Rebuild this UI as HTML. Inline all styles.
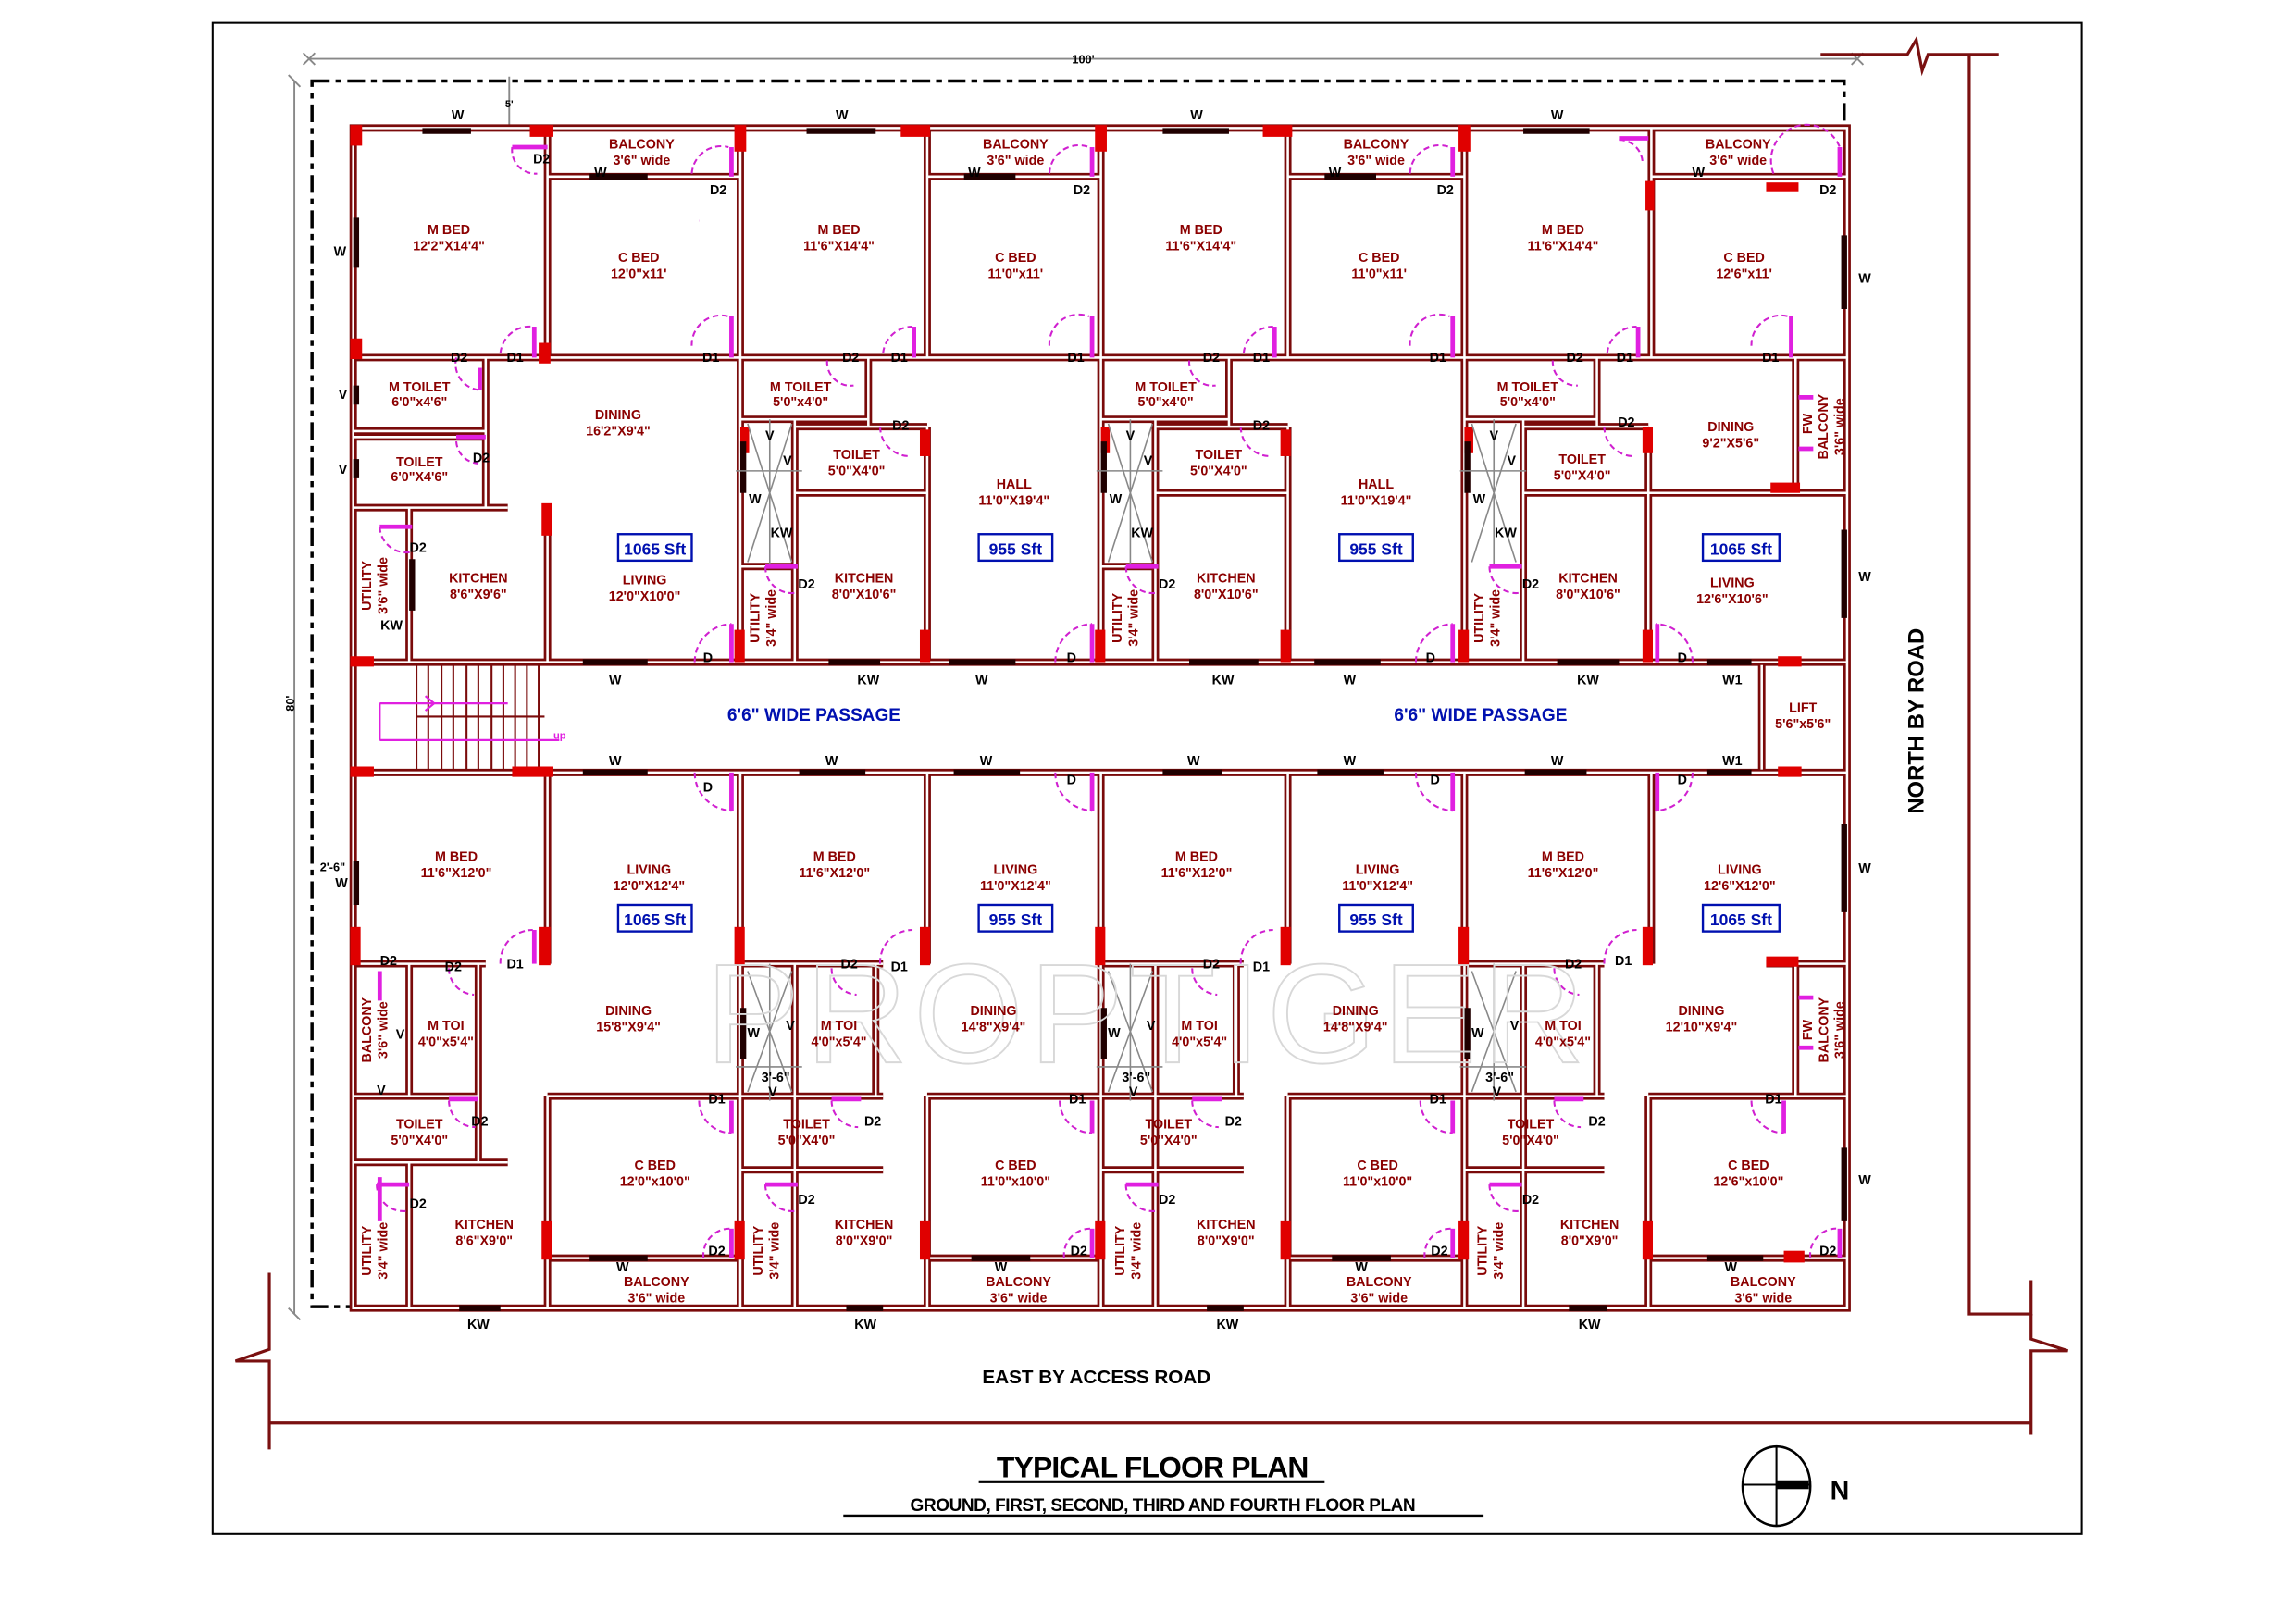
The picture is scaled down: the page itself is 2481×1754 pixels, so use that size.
<!DOCTYPE html>
<html><head><meta charset="utf-8"><style>
html,body{margin:0;padding:0;background:#fff}
svg{display:block}
.r{font-family:"Liberation Sans",sans-serif;font-weight:bold;fill:#8b0000;font-size:9px;text-anchor:middle}
.k{font-family:"Liberation Sans",sans-serif;font-weight:bold;fill:#000;font-size:9px;text-anchor:middle}
.b{font-family:"Liberation Sans",sans-serif;font-weight:bold;fill:#0010b0;font-size:11px;text-anchor:middle}
.bx{fill:none;stroke:#0010b0;stroke-width:1.5}
.dr{fill:none;stroke:#d020d0;stroke-width:1.3;stroke-dasharray:4 2.5}
.dl{stroke:#e020e0;stroke-width:3}
.col{fill:#e00000}
.win{stroke:#200000;stroke-width:4}
</style></head><body>
<svg width="2481" height="1754" viewBox="0 0 1560 1103" preserveAspectRatio="none" xmlns="http://www.w3.org/2000/svg">
<defs>
<path id="walls" fill="none" d="
M240 87 H1255 V889 H240 Z
M240 450 H1255 M240 525 H1255 M1197 452 V523
M503 87 V450 M748 87 V450 M995 87 V450 M503 525 V889 M748 525 V889 M995 525 V889
M372 87 V243 M372 120 H503 M240 243 H503 M330 243 V345 M240 293 H330 M240 297 H330 M240 345 H345 M278 345 V450 M372 345 V450
M630 87 V243 M630 120 H748 M503 243 H748 M590 243 V290 M503 285 H590 M540 290 H630 M540 285 V450 M540 335 H630 M630 290 V450 M503 385 H540
M875 87 V243 M875 120 H995 M748 243 H995 M835 243 V290 M748 285 H835 M785 290 H875 M785 285 V450 M785 335 H875 M875 290 V450 M748 385 H785
M1122 87 V243 M1122 120 H1255 M995 243 H1255 M1085 243 V290 M995 285 H1085 M1035 290 H1120 M1035 285 V450 M1035 335 H1255 M1120 290 V450 M1220 243 V335
M372 525 V655 M240 655 H330 M278 655 V745 M325 655 V745 M240 745 H325 M325 745 V790 M240 790 H345 M278 790 V889 M372 745 V889 M372 745 H503 M372 855 H503
M630 525 V655 M503 655 H600 M540 655 V745 M595 655 V745 M503 745 H600 M540 745 V795 M503 795 H600 M540 795 V889 M630 745 V889 M630 745 H748 M630 855 H748
M875 525 V655 M748 655 H845 M785 655 V745 M840 655 V745 M748 745 H845 M785 745 V795 M748 795 H845 M785 795 V889 M875 745 V889 M875 745 H995 M875 855 H995
M1122 525 V655 M995 655 H1090 M1035 655 V745 M1085 655 V745 M995 745 H1090 M1035 745 V795 M995 795 H1090 M1035 795 V889 M1120 745 V889 M1120 745 H1255 M1120 855 H1255 M1220 655 V745 M1200 655 H1255
"/>
</defs>
<!-- frame -->
<rect x="144.5" y="15.5" width="1270" height="1027" fill="none" stroke="#000" stroke-width="1.3"/>
<!-- dimension lines -->
<g stroke="#888" stroke-width="1.2" fill="none">
<path d="M210 40 H1262 M200 55 V893 M346 52 V87"/>
<path d="M206 36 l8 8 M206 44 l8 -8 M1258 36 l8 8 M1258 44 l8 -8 M196 51 l8 8 M196 889 l8 8"/>
</g>
<text x="736" y="43" class="k" style="font-size:8px">100'</text>
<text x="200" y="478" class="k" style="font-size:8px" transform="rotate(-90 200 478)">80'</text>
<text x="346" y="73" class="k" style="font-size:7px">5'</text>
<text x="226" y="592" class="k" style="font-size:8px">2'-6"</text>
<!-- dashed boundary -->
<path d="M212 55 H1253 V888 H212 Z" fill="none" stroke="#000" stroke-width="2.2" stroke-dasharray="12 4 4 4"/>
<!-- roads -->
<g stroke="#7a1010" stroke-width="2" fill="none">
<path d="M1237 37 H1296 L1302 27 L1306 48 L1310 37 H1358"/>
<path d="M1338 37 V893 H1380 V870"/>
<path d="M1380 893 V910 L1405 918 H1380 V975"/>
<path d="M183 865 V917 L160 925 H183 V985"/>
<path d="M183 967 H1380"/>
</g>
<text x="1307" y="490" style="font-family:'Liberation Sans',sans-serif;font-weight:bold;font-size:15px;text-anchor:middle" transform="rotate(-90 1307 490)">NORTH BY ROAD</text>
<text x="745" y="940" style="font-family:'Liberation Sans',sans-serif;font-weight:bold;font-size:13px;text-anchor:middle">EAST BY ACCESS ROAD</text>
<!-- walls -->
<use href="#walls" stroke="#7a0a0a" stroke-width="5"/>
<use href="#walls" stroke="#fff" stroke-width="1.6"/>
<!-- stairs -->
<g stroke="#7a0a0a" stroke-width="1.3">
<path d="M283 452 V523 M291 452 V523 M300 452 V523 M308 452 V523 M317 452 V523 M325 452 V523 M334 452 V523 M342 452 V523 M350 452 V523 M358 452 V523 M366 452 V523 M283 487 H370"/>
</g>
<path d="M258 503 H380 M258 478 V503 M258 478 H345" fill="none" stroke="#e020e0" stroke-width="1.4"/>
<path d="M289 473 l6 5 l-6 5" fill="none" stroke="#e020e0" stroke-width="1.4"/>
<text x="376" y="502" style="font-family:'Liberation Sans',sans-serif;font-weight:bold;font-size:7px;fill:#e020e0">up</text>
<!-- columns -->
<g class="col">
<rect x="238" y="85" width="8" height="14"/><rect x="360" y="85" width="16" height="8"/><rect x="499" y="85" width="8" height="18"/>
<rect x="612" y="85" width="20" height="8"/><rect x="744" y="85" width="8" height="18"/><rect x="858" y="85" width="20" height="8"/>
<rect x="991" y="85" width="8" height="18"/><rect x="1118" y="123" width="6" height="20"/><rect x="1200" y="124" width="22" height="6"/>
<rect x="238" y="230" width="8" height="14"/><rect x="366" y="233" width="8" height="14"/>
<rect x="368" y="342" width="7" height="22"/><rect x="625" y="292" width="7" height="18"/><rect x="870" y="292" width="7" height="18"/><rect x="1116" y="290" width="7" height="18"/>
<rect x="1203" y="328" width="20" height="7"/><rect x="1208" y="446" width="16" height="7"/><rect x="1208" y="521" width="16" height="7"/>
<rect x="238" y="446" width="16" height="7"/><rect x="238" y="521" width="16" height="7"/><rect x="348" y="521" width="28" height="7"/>
<rect x="625" y="428" width="7" height="22"/><rect x="870" y="428" width="7" height="22"/><rect x="1116" y="428" width="7" height="22"/>
<rect x="499" y="428" width="7" height="22"/><rect x="744" y="428" width="7" height="22"/><rect x="991" y="428" width="7" height="22"/>
<rect x="503" y="290" width="6" height="18"/><rect x="748" y="290" width="6" height="18"/><rect x="995" y="290" width="6" height="18"/>
<rect x="366" y="630" width="8" height="26"/><rect x="625" y="630" width="7" height="26"/><rect x="870" y="630" width="7" height="26"/><rect x="1116" y="630" width="7" height="26"/>
<rect x="499" y="630" width="7" height="26"/><rect x="744" y="630" width="7" height="26"/><rect x="991" y="630" width="7" height="26"/>
<rect x="238" y="630" width="7" height="26"/><rect x="1200" y="650" width="22" height="7"/>
<rect x="368" y="830" width="7" height="26"/><rect x="625" y="830" width="7" height="26"/><rect x="870" y="830" width="7" height="26"/><rect x="1116" y="830" width="7" height="26"/>
<rect x="499" y="830" width="7" height="26"/><rect x="744" y="830" width="7" height="26"/><rect x="991" y="830" width="7" height="26"/><rect x="1212" y="850" width="14" height="8"/>
</g>
<!-- windows -->
<g class="win">
<path d="M287 89 H320 M548 89 H595 M790 89 H835 M1035 89 H1080 M400 120 H440 M655 120 H690 M900 120 H935"/>
<path d="M242 148 V182 M242 262 V275 M242 312 V325 M280 380 V415 M1253 160 V210 M1253 360 V420 M1253 560 V620 M1253 780 V830"/>
<path d="M396 450 H440 M563 450 H598 M645 450 H690 M808 450 H855 M893 450 H938 M1058 450 H1100 M1160 450 H1190"/>
<path d="M396 525 H440 M543 525 H588 M648 525 H693 M790 525 H830 M895 525 H940 M1036 525 H1078 M1160 525 H1190"/>
<path d="M242 585 V615 M400 855 H440 M660 855 H700 M905 855 H945 M1160 855 H1198 M312 889 H340 M575 889 H600 M820 889 H845 M1066 889 H1092"/>
<path d="M505 300 V335 M750 300 V335 M997 300 V335 M505 685 V720 M750 685 V720 M997 685 V720"/>
</g>
<!-- shafts X -->
<g stroke="#888" stroke-width="1" fill="none">
<path d="M508 288 L538 382 M538 288 L508 382 M523 285 V385 M500 320 H545"/>
<path d="M753 288 L783 382 M783 288 L753 382 M768 285 V385 M745 320 H790"/>
<path d="M1000 288 L1030 382 M1030 288 L1000 382 M1015 285 V385 M992 320 H1037"/>
<path d="M508 660 L538 742 M538 660 L508 742 M523 655 V748 M500 725 H545"/>
<path d="M753 660 L783 742 M783 660 L753 742 M768 655 V748 M745 725 H790"/>
<path d="M1000 660 L1030 742 M1030 660 L1000 742 M1015 655 V748 M992 725 H1037"/>
</g>
<!-- doors -->
<g>
<path class="dr" d="M348 100 A16 16 0 0 0 365 118"/><path class="dl" d="M348 100 H372"/>
<path class="dr" d="M470 235 A20 20 0 0 1 495 215"/><path class="dl" d="M497 215 V243"/>
<path class="dr" d="M340 240 A20 20 0 0 1 362 222"/><path class="dl" d="M363 222 V243"/>
<path class="dr" d="M310 243 A18 18 0 0 0 325 265"/><path class="dl" d="M326 250 V265"/>
<path class="dr" d="M310 300 A16 16 0 0 0 325 315"/><path class="dl" d="M310 297 H330"/>
<path class="dr" d="M258 358 A18 18 0 0 0 280 375"/><path class="dl" d="M258 358 H280"/>
<path class="dr" d="M475 150 A0 0 0 0 0 475 150"/>
<path class="dr" d="M470 118 A20 20 0 0 1 495 100"/><path class="dl" d="M497 100 V120"/>
<path class="dr" d="M713 118 A20 20 0 0 1 740 100"/><path class="dl" d="M742 100 V120"/>
<path class="dr" d="M958 118 A20 20 0 0 1 985 100"/><path class="dl" d="M987 100 V120"/>
<path class="dr" d="M1205 118 A20 20 0 0 1 1250 100"/><path class="dl" d="M1250 100 V120"/>
<path class="dr" d="M1100 95 A16 16 0 0 1 1116 110"/><path class="dl" d="M1100 94 H1120"/>
<path class="dr" d="M713 235 A20 20 0 0 1 740 215"/><path class="dl" d="M742 215 V243"/>
<path class="dr" d="M958 235 A20 20 0 0 1 985 215"/><path class="dl" d="M987 215 V243"/>
<path class="dr" d="M1190 235 A20 20 0 0 1 1215 215"/><path class="dl" d="M1217 215 V243"/>
<path class="dr" d="M600 240 A20 20 0 0 1 620 222"/><path class="dl" d="M621 222 V243"/>
<path class="dr" d="M845 240 A20 20 0 0 1 865 222"/><path class="dl" d="M866 222 V243"/>
<path class="dr" d="M1092 240 A20 20 0 0 1 1112 222"/><path class="dl" d="M1113 222 V243"/>
<path class="dr" d="M562 245 A16 16 0 0 0 580 262"/><path class="dr" d="M808 245 A16 16 0 0 0 826 262"/><path class="dr" d="M1055 245 A16 16 0 0 0 1072 262"/>
<path class="dr" d="M598 290 A20 20 0 0 0 618 310"/><path class="dr" d="M843 290 A20 20 0 0 0 863 310"/><path class="dr" d="M1090 290 A20 20 0 0 0 1110 310"/>
<path class="dr" d="M520 385 A18 18 0 0 0 540 403"/><path class="dl" d="M520 385 H542"/>
<path class="dr" d="M765 385 A18 18 0 0 0 785 403"/><path class="dl" d="M765 385 H787"/>
<path class="dr" d="M1012 385 A18 18 0 0 0 1032 403"/><path class="dl" d="M1012 385 H1034"/>
<path class="dr" d="M472 450 A26 26 0 0 1 497 424"/><path class="dl" d="M497 424 V450"/>
<path class="dr" d="M717 450 A26 26 0 0 1 742 424"/><path class="dl" d="M742 424 V450"/>
<path class="dr" d="M962 450 A26 26 0 0 1 987 424"/><path class="dl" d="M987 424 V450"/>
<path class="dr" d="M1150 450 A26 26 0 0 0 1125 424"/><path class="dl" d="M1126 424 V450"/>
<path class="dr" d="M472 525 A26 26 0 0 0 497 551"/><path class="dl" d="M497 525 V551"/>
<path class="dr" d="M717 525 A26 26 0 0 0 742 551"/><path class="dl" d="M742 525 V551"/>
<path class="dr" d="M962 525 A26 26 0 0 0 987 551"/><path class="dl" d="M987 525 V551"/>
<path class="dr" d="M1150 525 A26 26 0 0 1 1125 551"/><path class="dl" d="M1126 525 V551"/>
<path class="dr" d="M340 655 A22 22 0 0 1 362 632"/><path class="dl" d="M363 632 V655"/>
<path class="dr" d="M598 655 A22 22 0 0 1 620 632"/><path class="dr" d="M843 655 A22 22 0 0 1 865 632"/><path class="dr" d="M1090 655 A22 22 0 0 1 1112 632"/>
<path class="dr" d="M305 658 A18 18 0 0 0 322 676"/><path class="dr" d="M565 658 A18 18 0 0 0 582 676"/><path class="dr" d="M810 658 A18 18 0 0 0 827 676"/><path class="dr" d="M1056 658 A18 18 0 0 0 1073 676"/>
<path class="dr" d="M475 748 A22 22 0 0 0 497 770"/><path class="dl" d="M497 748 V770"/>
<path class="dr" d="M720 748 A22 22 0 0 0 742 770"/><path class="dl" d="M742 748 V770"/>
<path class="dr" d="M965 748 A22 22 0 0 0 987 770"/><path class="dl" d="M987 748 V770"/>
<path class="dr" d="M1190 748 A22 22 0 0 0 1212 770"/><path class="dl" d="M1212 748 V770"/>
<path class="dr" d="M305 748 A18 18 0 0 0 323 766"/><path class="dl" d="M305 747 H325"/>
<path class="dr" d="M565 748 A18 18 0 0 0 583 766"/><path class="dl" d="M565 747 H585"/>
<path class="dr" d="M810 748 A18 18 0 0 0 828 766"/><path class="dl" d="M810 747 H830"/>
<path class="dr" d="M1056 748 A18 18 0 0 0 1074 766"/><path class="dl" d="M1056 747 H1076"/>
<path class="dr" d="M256 805 A18 18 0 0 0 276 823"/><path class="dl" d="M256 805 H278"/>
<path class="dr" d="M520 805 A18 18 0 0 0 540 823"/><path class="dl" d="M520 805 H542"/>
<path class="dr" d="M765 805 A18 18 0 0 0 785 823"/><path class="dl" d="M765 805 H787"/>
<path class="dr" d="M1012 805 A18 18 0 0 0 1032 823"/><path class="dl" d="M1012 805 H1034"/>
<path class="dr" d="M478 855 A18 18 0 0 1 497 835"/><path class="dl" d="M497 835 V855"/>
<path class="dr" d="M723 855 A18 18 0 0 1 742 835"/><path class="dl" d="M742 835 V855"/>
<path class="dr" d="M968 855 A18 18 0 0 1 987 835"/><path class="dl" d="M987 835 V855"/>
<path class="dr" d="M1230 855 A18 18 0 0 1 1250 835"/><path class="dl" d="M1250 835 V855"/>
<path class="dl" d="M1222 270 H1232 M1222 305 H1232 M1222 678 H1232 M1222 712 H1232 M258 660 V680 M258 800 V830"/>
</g>
<!-- watermark -->
<text x="780" y="722" style="font-family:'Liberation Sans',sans-serif;font-size:96px;fill:none;stroke:#d8d8d8;stroke-width:1.2;text-anchor:middle;letter-spacing:4px">PROPTIGER</text>
<!-- black labels -->
<g class="k">
<text x="311" y="81">W</text><text x="572" y="81">W</text><text x="813" y="81">W</text><text x="1058" y="81">W</text>
<text x="408" y="120">W</text><text x="662" y="120">W</text><text x="907" y="120">W</text><text x="1154" y="120">W</text>
<text x="368" y="111">D2</text><text x="488" y="132">D2</text><text x="735" y="132">D2</text><text x="982" y="132">D2</text><text x="1242" y="132">D2</text>
<text x="231" y="174">W</text><text x="1267" y="192">W</text>
<text x="312" y="246">D2</text><text x="350" y="246">D1</text><text x="483" y="246">D1</text><text x="578" y="246">D2</text><text x="611" y="246">D1</text><text x="731" y="246">D1</text>
<text x="823" y="246">D2</text><text x="857" y="246">D1</text><text x="977" y="246">D1</text><text x="1070" y="246">D2</text><text x="1104" y="246">D1</text><text x="1203" y="246">D1</text>
<text x="233" y="271">V</text><text x="233" y="322">V</text><text x="327" y="314">D2</text><text x="612" y="292">D2</text><text x="857" y="292">D2</text><text x="1105" y="290">D2</text>
<text x="523" y="299">V</text><text x="768" y="299">V</text><text x="1015" y="299">V</text>
<text x="535" y="316">V</text><text x="780" y="316">V</text><text x="1027" y="316">V</text>
<text x="513" y="342">W</text><text x="758" y="342">W</text><text x="1005" y="342">W</text>
<text x="531" y="365">KW</text><text x="776" y="365">KW</text><text x="1023" y="365">KW</text>
<text x="284" y="375">D2</text><text x="266" y="428">KW</text><text x="548" y="400">D2</text><text x="793" y="400">D2</text><text x="1040" y="400">D2</text>
<text x="481" y="450">D</text><text x="728" y="450">D</text><text x="972" y="450">D</text><text x="1143" y="450">D</text><text x="1267" y="395">W</text>
<text x="418" y="465">W</text><text x="590" y="465">KW</text><text x="667" y="465">W</text><text x="831" y="465">KW</text><text x="917" y="465">W</text><text x="1079" y="465">KW</text><text x="1177" y="465">W1</text>
<text x="418" y="520">W</text><text x="565" y="520">W</text><text x="670" y="520">W</text><text x="811" y="520">W</text><text x="917" y="520">W</text><text x="1058" y="520">W</text><text x="1177" y="520">W1</text>
<text x="481" y="538">D</text><text x="728" y="533">D</text><text x="975" y="533">D</text><text x="1143" y="533">D</text><text x="1267" y="593">W</text>
<text x="232" y="603">W</text>
<text x="264" y="656">D2</text><text x="308" y="660">D2</text><text x="350" y="658">D1</text><text x="577" y="658">D2</text><text x="611" y="660">D1</text><text x="823" y="658">D2</text><text x="857" y="660">D1</text><text x="1069" y="658">D2</text><text x="1103" y="656">D1</text>
<text x="272" y="706">V</text><text x="512" y="705">W</text><text x="757" y="705">W</text><text x="1004" y="705">W</text>
<text x="537" y="700">V</text><text x="782" y="700">V</text><text x="1029" y="700">V</text>
<text x="527" y="735">3'-6"</text><text x="772" y="735">3'-6"</text><text x="1019" y="735">3'-6"</text>
<text x="525" y="745">V</text><text x="770" y="745">V</text><text x="1017" y="745">V</text><text x="259" y="744">V</text>
<text x="487" y="750">D1</text><text x="732" y="750">D1</text><text x="977" y="750">D1</text><text x="1205" y="750">D1</text>
<text x="326" y="765">D2</text><text x="593" y="765">D2</text><text x="838" y="765">D2</text><text x="1085" y="765">D2</text>
<text x="284" y="821">D2</text><text x="548" y="818">D2</text><text x="793" y="818">D2</text><text x="1040" y="818">D2</text><text x="1267" y="805">W</text>
<text x="487" y="853">D2</text><text x="733" y="853">D2</text><text x="978" y="853">D2</text><text x="1242" y="853">D2</text>
<text x="423" y="864">W</text><text x="680" y="864">W</text><text x="925" y="864">W</text><text x="1176" y="864">W</text>
<text x="325" y="903">KW</text><text x="588" y="903">KW</text><text x="834" y="903">KW</text><text x="1080" y="903">KW</text>
</g>
<!-- red labels -->
<g class="r">
<text x="305" y="159">M BED</text><text x="305" y="170">12'2"X14'4"</text>
<text x="434" y="178">C BED</text><text x="434" y="189">12'0"x11'</text>
<text x="436" y="101">BALCONY</text><text x="436" y="112">3'6" wide</text>
<text x="285" y="266">M TOILET</text><text x="285" y="276">6'0"x4'6"</text>
<text x="285" y="317">TOILET</text><text x="285" y="327">6'0"X4'6"</text>
<text x="420" y="285">DINING</text><text x="420" y="296">16'2"X9'4"</text>
<text x="325" y="396">KITCHEN</text><text x="325" y="407">8'6"X9'6"</text>
<text x="438" y="397">LIVING</text><text x="438" y="408">12'0"X10'0"</text>
<text x="252" y="398" transform="rotate(-90 252 398)">UTILITY</text><text x="263" y="398" transform="rotate(-90 263 398)">3'6" wide</text>

<text x="570" y="159">M BED</text><text x="570" y="170">11'6"X14'4"</text>
<text x="690" y="178">C BED</text><text x="690" y="189">11'0"x11'</text>
<text x="690" y="101">BALCONY</text><text x="690" y="112">3'6" wide</text>
<text x="544" y="266">M TOILET</text><text x="544" y="276">5'0"x4'0"</text>
<text x="582" y="312">TOILET</text><text x="582" y="323">5'0"X4'0"</text>
<text x="689" y="332">HALL</text><text x="689" y="343">11'0"X19'4"</text>
<text x="587" y="396">KITCHEN</text><text x="587" y="407">8'0"X10'6"</text>
<text x="516" y="420" transform="rotate(-90 516 420)">UTILITY</text><text x="527" y="420" transform="rotate(-90 527 420)">3'4" wide</text>

<text x="816" y="159">M BED</text><text x="816" y="170">11'6"X14'4"</text>
<text x="937" y="178">C BED</text><text x="937" y="189">11'0"x11'</text>
<text x="935" y="101">BALCONY</text><text x="935" y="112">3'6" wide</text>
<text x="792" y="266">M TOILET</text><text x="792" y="276">5'0"x4'0"</text>
<text x="828" y="312">TOILET</text><text x="828" y="323">5'0"X4'0"</text>
<text x="935" y="332">HALL</text><text x="935" y="343">11'0"X19'4"</text>
<text x="833" y="396">KITCHEN</text><text x="833" y="407">8'0"X10'6"</text>
<text x="762" y="420" transform="rotate(-90 762 420)">UTILITY</text><text x="773" y="420" transform="rotate(-90 773 420)">3'4" wide</text>

<text x="1062" y="159">M BED</text><text x="1062" y="170">11'6"X14'4"</text>
<text x="1185" y="178">C BED</text><text x="1185" y="189">12'6"x11'</text>
<text x="1181" y="101">BALCONY</text><text x="1181" y="112">3'6" wide</text>
<text x="1038" y="266">M TOILET</text><text x="1038" y="276">5'0"x4'0"</text>
<text x="1075" y="315">TOILET</text><text x="1075" y="326">5'0"X4'0"</text>
<text x="1176" y="293">DINING</text><text x="1176" y="304">9'2"X5'6"</text>
<text x="1079" y="396">KITCHEN</text><text x="1079" y="407">8'0"X10'6"</text>
<text x="1177" y="399">LIVING</text><text x="1177" y="410">12'6"X10'6"</text>
<text x="1231" y="288" transform="rotate(-90 1231 288)">FW</text>
<text x="1242" y="290" transform="rotate(-90 1242 290)">BALCONY</text><text x="1253" y="290" transform="rotate(-90 1253 290)">3'6" wide</text>
<text x="1008" y="420" transform="rotate(-90 1008 420)">UTILITY</text><text x="1019" y="420" transform="rotate(-90 1019 420)">3'4" wide</text>
<text x="1225" y="484">LIFT</text><text x="1225" y="495">5'6"x5'6"</text>

<text x="310" y="585">M BED</text><text x="310" y="596">11'6"X12'0"</text>
<text x="441" y="594">LIVING</text><text x="441" y="605">12'0"X12'4"</text>
<text x="427" y="690">DINING</text><text x="427" y="701">15'8"X9'4"</text>
<text x="303" y="700">M TOI</text><text x="303" y="711">4'0"x5'4"</text>
<text x="252" y="700" transform="rotate(-90 252 700)">BALCONY</text><text x="263" y="700" transform="rotate(-90 263 700)">3'6" wide</text>
<text x="285" y="767">TOILET</text><text x="285" y="778">5'0"X4'0"</text>
<text x="445" y="795">C BED</text><text x="445" y="806">12'0"x10'0"</text>
<text x="329" y="835">KITCHEN</text><text x="329" y="846">8'6"X9'0"</text>
<text x="446" y="874">BALCONY</text><text x="446" y="885">3'6" wide</text>
<text x="252" y="850" transform="rotate(-90 252 850)">UTILITY</text><text x="263" y="850" transform="rotate(-90 263 850)">3'4" wide</text>

<text x="567" y="585">M BED</text><text x="567" y="596">11'6"X12'0"</text>
<text x="690" y="594">LIVING</text><text x="690" y="605">11'0"X12'4"</text>
<text x="675" y="690">DINING</text><text x="675" y="701">14'8"X9'4"</text>
<text x="570" y="700">M TOI</text><text x="570" y="711">4'0"x5'4"</text>
<text x="548" y="767">TOILET</text><text x="548" y="778">5'0"X4'0"</text>
<text x="690" y="795">C BED</text><text x="690" y="806">11'0"x10'0"</text>
<text x="587" y="835">KITCHEN</text><text x="587" y="846">8'0"X9'0"</text>
<text x="692" y="874">BALCONY</text><text x="692" y="885">3'6" wide</text>
<text x="518" y="850" transform="rotate(-90 518 850)">UTILITY</text><text x="529" y="850" transform="rotate(-90 529 850)">3'4" wide</text>

<text x="813" y="585">M BED</text><text x="813" y="596">11'6"X12'0"</text>
<text x="936" y="594">LIVING</text><text x="936" y="605">11'0"X12'4"</text>
<text x="921" y="690">DINING</text><text x="921" y="701">14'8"X9'4"</text>
<text x="815" y="700">M TOI</text><text x="815" y="711">4'0"x5'4"</text>
<text x="794" y="767">TOILET</text><text x="794" y="778">5'0"X4'0"</text>
<text x="936" y="795">C BED</text><text x="936" y="806">11'0"x10'0"</text>
<text x="833" y="835">KITCHEN</text><text x="833" y="846">8'0"X9'0"</text>
<text x="937" y="874">BALCONY</text><text x="937" y="885">3'6" wide</text>
<text x="764" y="850" transform="rotate(-90 764 850)">UTILITY</text><text x="775" y="850" transform="rotate(-90 775 850)">3'4" wide</text>

<text x="1062" y="585">M BED</text><text x="1062" y="596">11'6"X12'0"</text>
<text x="1182" y="594">LIVING</text><text x="1182" y="605">12'6"X12'0"</text>
<text x="1156" y="690">DINING</text><text x="1156" y="701">12'10"X9'4"</text>
<text x="1062" y="700">M TOI</text><text x="1062" y="711">4'0"x5'4"</text>
<text x="1040" y="767">TOILET</text><text x="1040" y="778">5'0"X4'0"</text>
<text x="1188" y="795">C BED</text><text x="1188" y="806">12'6"x10'0"</text>
<text x="1080" y="835">KITCHEN</text><text x="1080" y="846">8'0"X9'0"</text>
<text x="1198" y="874">BALCONY</text><text x="1198" y="885">3'6" wide</text>
<text x="1231" y="700" transform="rotate(-90 1231 700)">FW</text>
<text x="1242" y="700" transform="rotate(-90 1242 700)">BALCONY</text><text x="1253" y="700" transform="rotate(-90 1253 700)">3'6" wide</text>
<text x="1010" y="850" transform="rotate(-90 1010 850)">UTILITY</text><text x="1021" y="850" transform="rotate(-90 1021 850)">3'4" wide</text>
</g>
<!-- area boxes -->
<g>
<rect class="bx" x="420" y="363" width="50" height="18"/><text class="b" x="445" y="377">1065 Sft</text>
<rect class="bx" x="665" y="363" width="50" height="18"/><text class="b" x="690" y="377">955 Sft</text>
<rect class="bx" x="910" y="363" width="50" height="18"/><text class="b" x="935" y="377">955 Sft</text>
<rect class="bx" x="1157" y="363" width="52" height="18"/><text class="b" x="1183" y="377">1065 Sft</text>
<rect class="bx" x="420" y="615" width="50" height="18"/><text class="b" x="445" y="629">1065 Sft</text>
<rect class="bx" x="665" y="615" width="50" height="18"/><text class="b" x="690" y="629">955 Sft</text>
<rect class="bx" x="910" y="615" width="50" height="18"/><text class="b" x="935" y="629">955 Sft</text>
<rect class="bx" x="1157" y="615" width="52" height="18"/><text class="b" x="1183" y="629">1065 Sft</text>
<text class="b" x="553" y="490" style="font-size:12px">6'6" WIDE PASSAGE</text>
<text class="b" x="1006" y="490" style="font-size:12px">6'6" WIDE PASSAGE</text>
</g>
<!-- title -->
<text x="783" y="1004" style="font-family:'Liberation Sans',sans-serif;font-weight:bold;font-size:20px;text-anchor:middle;letter-spacing:-0.5px">TYPICAL FLOOR PLAN</text>
<path d="M665 1007 H900" stroke="#000" stroke-width="2"/>
<text x="790" y="1027" style="font-family:'Liberation Sans',sans-serif;font-weight:bold;font-size:12px;text-anchor:middle;letter-spacing:-0.3px">GROUND, FIRST, SECOND, THIRD AND FOURTH FLOOR PLAN</text>
<path d="M573 1030 H1008" stroke="#000" stroke-width="1.5"/>
<!-- compass -->
<ellipse cx="1207" cy="1010" rx="23" ry="27" fill="none" stroke="#000" stroke-width="1.6"/>
<path d="M1207 983 V1037 M1184 1009 H1230" stroke="#000" stroke-width="1.3"/>
<rect x="1207" y="1006" width="22" height="6" fill="#000"/>
<text x="1250" y="1019" style="font-family:'Liberation Sans',sans-serif;font-weight:bold;font-size:18px;text-anchor:middle">N</text>
</svg>
</body></html>
